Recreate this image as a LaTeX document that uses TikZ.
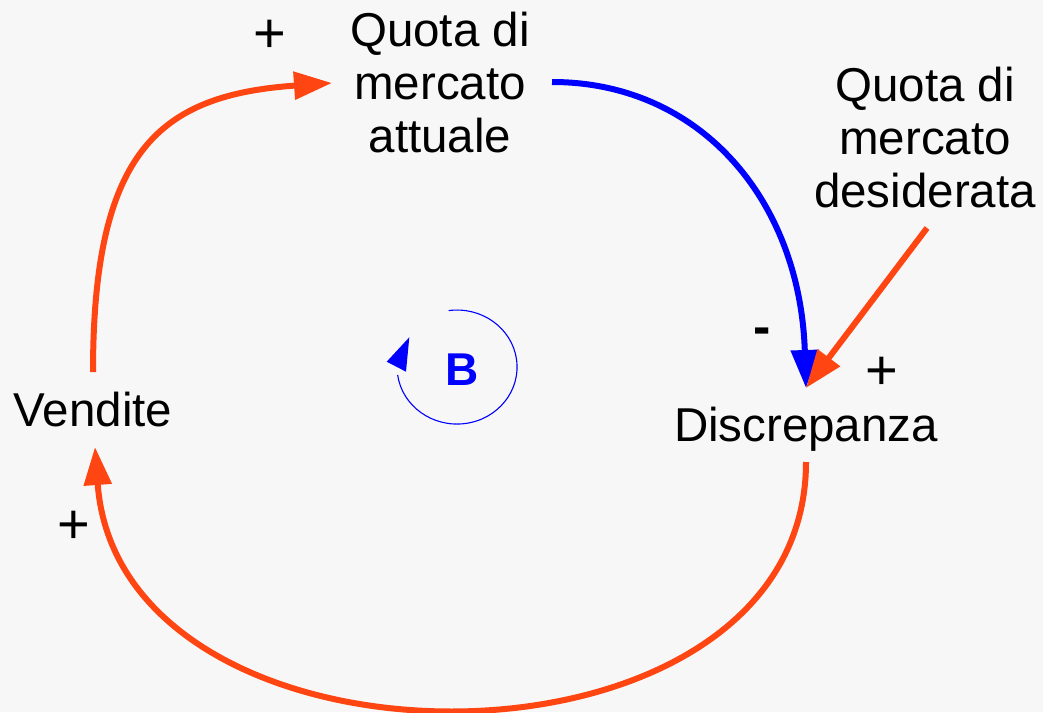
\documentclass[tikz,border=0pt]{standalone}
\usepackage{fontspec}
\setmainfont{Liberation Sans}
\usetikzlibrary{arrows.meta}
\definecolor{bg}{RGB}{247,247,247}
\definecolor{lorange}{RGB}{255,69,17}
\definecolor{lblue}{RGB}{0,0,255}
\begin{document}
\begin{tikzpicture}[x=1pt,y=-1pt,
  lbl/.style={font=\fontsize{47.5}{53}\selectfont, align=center, inner sep=0pt},
  sgn/.style={font=\fontsize{56}{60}\selectfont, inner sep=0pt},
  link/.style={line width=6pt, -{Triangle[length=38pt,width=27pt]}},
]
\fill[bg] (0,0) rectangle (1043,712);
\useasboundingbox (0,0) rectangle (1043,712);

\node[lbl] (qa) at (440,83) {Quota di\\mercato\\attuale};
\node[lbl] (des) at (925,138) {Quota di\\mercato\\desiderata};
\node[lbl] (vend) at (93,410) {Vendite};
\node[lbl] (disc) at (806,429) {Discrepanza};
\node[font=\fontsize{46}{50}\selectfont\bfseries, text=lblue, inner sep=0pt] (B) at (462,370) {B};

\node[sgn] (s1) at (270,36) {+};
\node[sgn, font=\fontsize{52}{60}\selectfont\bfseries] (s2) at (762,336) {-};
\node[sgn] (s3) at (882,373) {+};
\node[sgn] (s4) at (74,527) {+};

\draw[link,lorange] ([yshift=38pt]vend.center) .. controls (93,150) and (160,95) .. ([xshift=-108pt]qa.center);
\draw[link,lblue] ([xshift=112pt,yshift=1pt]qa.center) .. controls (700,82) and (800,200) .. ([yshift=41pt]disc.center);
\draw[link,lorange] ([xshift=2pt,yshift=-90pt]des.center) -- ([yshift=41pt]disc.center);
\draw[link,lorange] ([yshift=-33pt]disc.center) .. controls (806,791) and (120,791) .. ([xshift=2pt,yshift=-37pt]vend.center);

\draw[lblue, line width=1.1pt] (448.7,310.6) arc[start angle=98, end angle=-172, x radius=60pt, y radius=57pt];
\fill[lblue] (409.3,337.3) -- (406,371.7) -- (386.7,361.7) -- cycle;
\end{tikzpicture}
\end{document}
